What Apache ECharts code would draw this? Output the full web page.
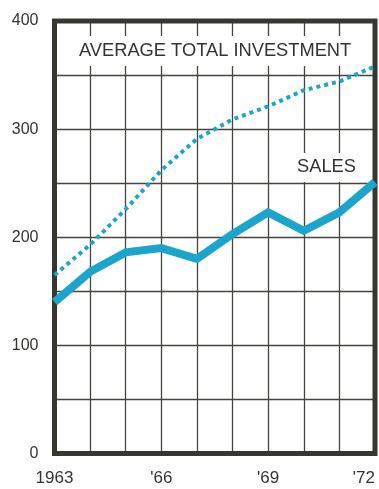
<!DOCTYPE html>
<html>
<head>
<meta charset="utf-8">
<script src="https://cdn.jsdelivr.net/npm/echarts@6/dist/echarts.min.js"></script>
<style>
  html, body { margin: 0; padding: 0; background: #ffffff; }
  #chart { width: 379px; height: 489px; }
</style>
</head>
<body>
<div id="chart"></div>
<script>
// Years along the horizontal axis
const years = ['1963', '1964', '1965', '1966', '1967', '1968', '1969', '1970', '1971', '1972'];
// Labels written under the axis (every third year)
const yearLabels = { '1963': '1963', '1966': "'66", '1969': "'69", '1972': "'72" };
// Values printed on the vertical axis
const valueTicks = [0, 100, 200, 300, 400];

// Average total investment (dotted line)
const investment = [165, 193, 226, 262, 291, 309, 321, 336, 344, 358];
// Sales (heavy solid line)
const sales = [140, 168, 186, 190, 180, 203, 223, 206, 223, 251];

const lineColor = '#1ba5cc';
const inkColor = '#333330';
const gridColor = '#45453e';
const labelFont = '"Liberation Sans", Arial, sans-serif';

const chart = echarts.init(document.getElementById('chart'), null, { renderer: 'canvas' });

chart.setOption({
  animation: false,
  backgroundColor: '#ffffff',
  grid: {
    left: 54.5, right: 4, top: 21, bottom: 35.5,
    show: true,
    borderColor: '#373732',
    borderWidth: 5,
    z: 3
  },
  xAxis: {
    type: 'category',
    data: years,
    boundaryGap: false,
    z: 1,
    axisLine: { show: false },
    axisTick: { show: false },
    axisLabel: {
      interval: 0,
      margin: 16,
      color: inkColor,
      fontFamily: labelFont,
      fontSize: 17,
      alignMaxLabel: 'right',
      formatter: v => yearLabels[v] || ''
    },
    splitLine: {
      show: true,
      interval: 0,
      lineStyle: { color: gridColor, width: 1.3 }
    }
  },
  yAxis: {
    type: 'value',
    min: 0,
    max: 400,
    interval: 50,
    z: 1,
    axisLine: { show: false },
    axisTick: { show: false },
    axisLabel: {
      margin: 16,
      color: inkColor,
      fontFamily: labelFont,
      fontSize: 16,
      formatter: v => valueTicks.includes(v) ? String(v) : ''
    },
    splitLine: {
      show: true,
      lineStyle: { color: gridColor, width: 1.3 }
    }
  },
  series: [
    {
      name: 'AVERAGE TOTAL INVESTMENT',
      type: 'line',
      data: investment,
      symbol: 'none',
      z: 4,
      lineStyle: { color: lineColor, width: 4, type: [4, 4], cap: 'butt' }
    },
    {
      name: 'SALES',
      type: 'line',
      data: sales,
      symbol: 'none',
      z: 5,
      lineStyle: { color: lineColor, width: 8, join: 'miter', cap: 'butt' }
    }
  ],
  // Series names written inside the plot on a white patch that breaks the grid
  graphic: [
    {
      type: 'text',
      left: 76,
      top: 36,
      z: 10,
      style: {
        text: 'AVERAGE TOTAL INVESTMENT',
        fill: inkColor,
        font: '18.3px ' + labelFont,
        backgroundColor: '#ffffff',
        padding: [6, 3, 6, 3]
      }
    },
    {
      type: 'text',
      left: 294,
      top: 153,
      z: 10,
      style: {
        text: 'SALES',
        fill: inkColor,
        font: '18.3px ' + labelFont,
        backgroundColor: '#ffffff',
        padding: [5, 3, 6, 3]
      }
    }
  ]
});
</script>
</body>
</html>
